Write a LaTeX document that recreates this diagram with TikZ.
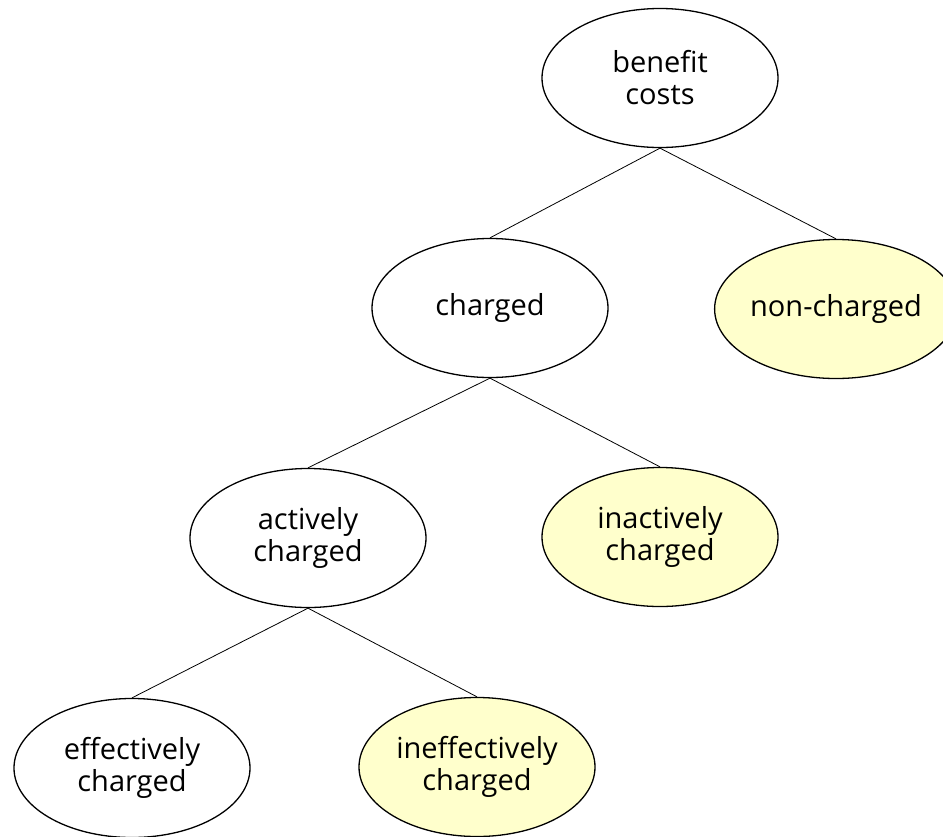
\documentclass[tikz,border=0pt]{standalone}
\usepackage{fontspec}
\setmainfont{Open Sans}
\usepackage{xcolor}
\usepackage{tikz}
\usetikzlibrary{shapes.geometric}

\definecolor{paleyellow}{RGB}{255,255,204}

\begin{document}
\begin{tikzpicture}[x=1pt,y=-1pt,
    leaf/.style={ellipse,draw,line width=1.3pt,minimum width=236pt,minimum height=139pt,
      inner sep=0pt,align=center,font=\fontsize{29}{32}\selectfont},
    dead/.style={leaf,fill=paleyellow}]

  \useasboundingbox (0,0) rectangle (943,836);

  
  \node[leaf] (benefit) at (660,78) {benefit\\costs};
  \node[leaf] (charged) at (490,308) {charged};
  \node[dead] (noncharged) at (836,309) {non-charged};

  
  \node[leaf] (active) at (308,538) {actively\\charged};
  \node[dead] (inactive) at (660,537) {inactively\\charged};

  
  \node[leaf] (effective) at (132,768) {effectively\\charged};
  \node[dead] (ineffective) at (477,767) {ineffectively\\charged};

  
  \draw[line width=0.8pt] (benefit.south) -- (charged.north);
  \draw[line width=0.8pt] (benefit.south) -- (noncharged.north);
  \draw[line width=0.8pt] (charged.south) -- (active.north);
  \draw[line width=0.8pt] (charged.south) -- (inactive.north);
  \draw[line width=0.8pt] (active.south) -- (effective.north);
  \draw[line width=0.8pt] (active.south) -- (ineffective.north);
\end{tikzpicture}
\end{document}
